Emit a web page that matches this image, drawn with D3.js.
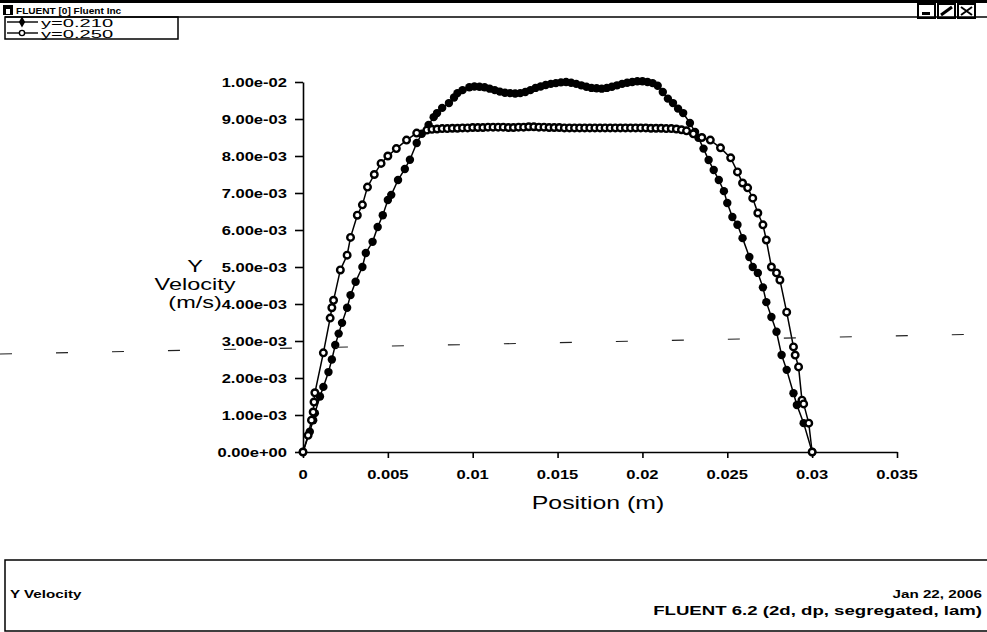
<!DOCTYPE html>
<html>
<head>
<meta charset="utf-8">
<script src="https://cdn.jsdelivr.net/npm/d3@7"></script>
<style>
  body { margin: 0; background: #fff; }
  svg { display: block; }
  text { font-family: "Liberation Sans", Arial, sans-serif; fill: #000; }
</style>
</head>
<body>
<script>
// size of the page
var width = 987;
var height = 632;
var stretch = 1.38; // the scanned plot is wider than it is tall, text too

// tick labels
var xTickValues = [0, 0.005, 0.01, 0.015, 0.02, 0.025, 0.03, 0.035];
var xTickLabels = ["0", "0.005", "0.01", "0.015", "0.02", "0.025", "0.03", "0.035"];
var yTickValues = [0, 1, 2, 3, 4, 5, 6, 7, 8, 9, 10];   // in 1e-3 m/s
var yTickLabels = ["0.00e+00", "1.00e-03", "2.00e-03", "3.00e-03", "4.00e-03", "5.00e-03",
                   "6.00e-03", "7.00e-03", "8.00e-03", "9.00e-03", "1.00e-02"];

var seriesNames = ["y=0.210", "y=0.250"];

// [position (m), Y velocity (1e-3 m/s)]
var line210 = [
  [0, 0], [0.0004, 0.55], [0.0006, 0.86], [0.0007, 1.05], [0.0010, 1.50], [0.0012, 1.76],
  [0.0015, 2.16], [0.0017, 2.50], [0.0019, 2.89], [0.0021, 3.20], [0.0023, 3.49], [0.0026, 3.90],
  [0.0028, 4.24], [0.0031, 4.60], [0.0035, 5.00], [0.0037, 5.38], [0.0041, 5.68], [0.0044, 6.08],
  [0.0047, 6.40], [0.0050, 6.81], [0.0052, 6.95], [0.0056, 7.35], [0.0060, 7.65], [0.0063, 7.90],
  [0.0067, 8.35], [0.0070, 8.60], [0.0074, 8.84], [0.0077, 9.05], [0.0079, 9.16], [0.0082, 9.30],
  [0.0086, 9.43], [0.0089, 9.58], [0.0091, 9.70], [0.0094, 9.78], [0.0098, 9.86], [0.0101, 9.88],
  [0.0104, 9.87], [0.0107, 9.86], [0.0110, 9.82], [0.0113, 9.78], [0.0116, 9.74], [0.0119, 9.71],
  [0.0122, 9.70], [0.0125, 9.69], [0.0128, 9.70], [0.0131, 9.73], [0.0134, 9.78], [0.0137, 9.84],
  [0.0140, 9.88], [0.0143, 9.92], [0.0146, 9.95], [0.0149, 9.97], [0.0152, 9.99], [0.0155, 10.0],
  [0.0158, 9.98], [0.0161, 9.95], [0.0164, 9.91], [0.0167, 9.87], [0.0170, 9.84], [0.0173, 9.83],
  [0.0176, 9.82], [0.0179, 9.84], [0.0182, 9.87], [0.0185, 9.91], [0.0188, 9.95], [0.0191, 9.98],
  [0.0194, 10.0], [0.0197, 10.02], [0.0200, 10.02], [0.0203, 10.0], [0.0206, 9.97], [0.0209, 9.90],
  [0.0212, 9.73], [0.0215, 9.55], [0.0218, 9.43], [0.0221, 9.28], [0.0224, 9.16], [0.0228, 8.89],
  [0.0231, 8.65], [0.0233, 8.49], [0.0236, 8.20], [0.0239, 7.89], [0.0242, 7.62], [0.0245, 7.35],
  [0.0248, 7.05], [0.0250, 6.73], [0.0253, 6.35], [0.0256, 6.14], [0.0259, 5.78], [0.0263, 5.27],
  [0.0265, 5.00], [0.0268, 4.84], [0.0271, 4.45], [0.0273, 4.05], [0.0276, 3.65], [0.0279, 3.25],
  [0.0282, 2.62], [0.0285, 2.22], [0.0289, 1.59], [0.0291, 1.27], [0.0295, 0.78], [0.0300, 0]
];

var line250 = [
  [0, 0], [0.0003, 0.45], [0.0005, 0.86], [0.0006, 1.08], [0.00065, 1.35], [0.0007, 1.60],
  [0.0012, 2.68], [0.0016, 3.62], [0.0017, 3.90], [0.0018, 4.10], [0.0022, 4.92], [0.0026, 5.32],
  [0.0028, 5.80], [0.0032, 6.40], [0.0035, 6.68], [0.0038, 7.16], [0.0042, 7.50], [0.0046, 7.80],
  [0.0050, 8.00], [0.0055, 8.20], [0.0061, 8.43], [0.0067, 8.62], [0.0073, 8.70], [0.0076, 8.72],
  [0.0079, 8.73], [0.0082, 8.74], [0.0085, 8.74], [0.0088, 8.75], [0.0091, 8.75], [0.0094, 8.76],
  [0.0097, 8.76], [0.0100, 8.77], [0.0103, 8.77], [0.0106, 8.77], [0.0109, 8.78], [0.0112, 8.78],
  [0.0115, 8.78], [0.0118, 8.78], [0.0121, 8.77], [0.0124, 8.77], [0.0127, 8.78], [0.0130, 8.78],
  [0.0133, 8.79], [0.0136, 8.79], [0.0139, 8.78], [0.0142, 8.78], [0.0145, 8.77], [0.0148, 8.77],
  [0.0151, 8.77], [0.0154, 8.76], [0.0157, 8.76], [0.0160, 8.76], [0.0163, 8.76], [0.0166, 8.76],
  [0.0169, 8.76], [0.0172, 8.76], [0.0175, 8.76], [0.0178, 8.76], [0.0181, 8.76], [0.0184, 8.76],
  [0.0187, 8.76], [0.0190, 8.76], [0.0193, 8.76], [0.0196, 8.76], [0.0199, 8.76], [0.0202, 8.76],
  [0.0205, 8.75], [0.0208, 8.75], [0.0211, 8.75], [0.0214, 8.74], [0.0217, 8.74], [0.0220, 8.73],
  [0.0223, 8.71], [0.0226, 8.68], [0.0230, 8.60], [0.0235, 8.50], [0.0240, 8.43], [0.0246, 8.22],
  [0.0252, 7.95], [0.0256, 7.57], [0.0259, 7.27], [0.0262, 7.14], [0.0265, 6.86], [0.0268, 6.46],
  [0.0271, 6.14], [0.0273, 5.73], [0.0276, 5.00], [0.0279, 4.84], [0.0281, 4.65], [0.0285, 3.78],
  [0.0289, 2.84], [0.0290, 2.62], [0.0292, 2.30], [0.0294, 1.40], [0.0295, 1.30], [0.0298, 0.78],
  [0.0300, 0]
];

// scales
var x = d3.scaleLinear().domain([0, 0.035]).range([303, 897]);
var y = d3.scaleLinear().domain([0, 10]).range([452, 82]);

var svg = d3.select("body")
            .append("svg")
            .attr("width", width)
            .attr("height", height);

// text helper, stretched sideways like the scan
function label(g, str, px, py, size, anchor, weight, sx, sy) {
  return g.append("text")
          .attr("transform", "translate(" + px + "," + py + ") scale(" + (sx || stretch) + "," + (sy || 1) + ")")
          .attr("text-anchor", anchor)
          .style("font-size", size + "px")
          .style("font-weight", weight)
          .text(str);
}

// ---- window frame ----
svg.append("rect").attr("x", 0).attr("y", 0).attr("width", width).attr("height", 3).attr("fill", "#000");
svg.append("rect").attr("x", 3).attr("y", 5).attr("width", 10).attr("height", 10).attr("fill", "#000");
svg.append("rect").attr("x", 6).attr("y", 9).attr("width", 4).attr("height", 5).attr("fill", "#fff");
label(svg, "FLUENT [0] Fluent Inc", 16, 14, 9, "start", "bold", 1.12);

// window buttons
[918, 938, 958].forEach(function(bx, i) {
  svg.append("rect").attr("x", bx).attr("y", 4).attr("width", 17).attr("height", 14)
     .attr("fill", "#fff").attr("stroke", "#000").attr("stroke-width", 2);
  if (i == 0) svg.append("rect").attr("x", bx + 4).attr("y", 12).attr("width", 8).attr("height", 3).attr("fill", "#000");
  if (i == 1) svg.append("path").attr("d", "M" + (bx + 3) + ",15L" + (bx + 14) + ",7").attr("stroke", "#000").attr("stroke-width", 3);
  if (i == 2) svg.append("path").attr("d", "M" + (bx + 3) + ",7L" + (bx + 14) + ",15M" + (bx + 14) + ",7L" + (bx + 3) + ",15").attr("stroke", "#000").attr("stroke-width", 2);
});

svg.append("line").attr("x1", 5).attr("x2", width).attr("y1", 17).attr("y2", 17)
   .attr("stroke", "#000").attr("stroke-width", 1.5);

// legend box
var legend = svg.append("g");
legend.append("rect").attr("x", 5).attr("y", 17).attr("width", 173).attr("height", 22)
      .attr("fill", "none").attr("stroke", "#000").attr("stroke-width", 1.5);
seriesNames.forEach(function(name, i) {
  var ly = 22 + i * 11;
  legend.append("line").attr("x1", 7).attr("x2", 38).attr("y1", ly).attr("y2", ly)
        .attr("stroke", "#000").attr("stroke-width", 1.4);
  if (i == 0) {
    legend.append("path").attr("d", d3.symbol(d3.symbolDiamond, 34)())
          .attr("transform", "translate(22," + ly + ")").attr("fill", "#000");
  } else {
    legend.append("circle").attr("cx", 22).attr("cy", ly).attr("r", 2.6)
          .attr("fill", "#fff").attr("stroke", "#000").attr("stroke-width", 1.4);
  }
  label(legend, name, 41, ly + 4.5, 13, "start", "normal", 1.55, 0.82);
});

// ---- axes ----
var xAxis = svg.append("g").attr("transform", "translate(0," + y(0) + ")");
xAxis.call(d3.axisBottom(x).tickValues(d3.range(0, 0.0351, 0.001)).tickSize(3).tickFormat(""));
xAxis.call(d3.axisBottom(x).tickValues(xTickValues).tickSize(6).tickSizeOuter(0).tickFormat(""));
xAxis.selectAll("path,line").attr("stroke", "#000").attr("stroke-width", 1.6);

var yAxis = svg.append("g").attr("transform", "translate(" + x(0) + ",0)");
yAxis.call(d3.axisLeft(y).tickValues(d3.range(0, 10.01, 0.2)).tickSize(4).tickFormat(""));
yAxis.call(d3.axisLeft(y).tickValues(yTickValues).tickSize(8).tickSizeOuter(0).tickFormat(""));
yAxis.selectAll("path,line").attr("stroke", "#000").attr("stroke-width", 1.6);

xTickValues.forEach(function(v, i) {
  label(svg, xTickLabels[i], x(v), 479, 12, "middle", "bold");
});
yTickValues.forEach(function(v, i) {
  label(svg, yTickLabels[i], 287, y(v) + 4.5, 12, "end", "bold");
});

// axis titles
label(svg, "Position (m)", 598, 509, 18, "middle", "normal");
label(svg, "Y", 195, 272, 17, "middle", "normal");
label(svg, "Velocity", 195, 290, 17, "middle", "normal");
label(svg, "(m/s)", 195, 308, 17, "middle", "normal");

// ---- curves ----
var path = d3.line()
             .x(function(d) { return x(d[0]); })
             .y(function(d) { return y(d[1]); });

svg.append("path").datum(line210).attr("d", path)
   .attr("fill", "none").attr("stroke", "#000").attr("stroke-width", 1.5);
svg.append("path").datum(line250).attr("d", path)
   .attr("fill", "none").attr("stroke", "#000").attr("stroke-width", 1.5);

svg.selectAll("circle.filled")
   .data(line210)
   .enter()
   .append("circle")
   .attr("class", "filled")
   .attr("cx", function(d) { return x(d[0]); })
   .attr("cy", function(d) { return y(d[1]); })
   .attr("r", 4.2)
   .style("fill", "#000");

svg.selectAll("circle.open")
   .data(line250)
   .enter()
   .append("circle")
   .attr("class", "open")
   .attr("cx", function(d) { return x(d[0]); })
   .attr("cy", function(d) { return y(d[1]); })
   .attr("r", 3.3)
   .style("fill", "#fff")
   .style("stroke", "#000")
   .style("stroke-width", 2.4);

// dashed scan line across the sheet
svg.append("line").attr("x1", 0).attr("y1", 354).attr("x2", width).attr("y2", 334)
   .attr("stroke", "#222").attr("stroke-width", 1.1).attr("stroke-dasharray", "12,44");

// ---- footer box ----
var foot = svg.append("g");
foot.append("path").attr("d", "M" + width + ",560H5V631H" + width)
    .attr("fill", "none").attr("stroke", "#000").attr("stroke-width", 1.5);
label(foot, "Y Velocity", 10, 598, 11, "start", "bold");
label(foot, "Jan 22, 2006", 982, 598, 11, "end", "bold");
label(foot, "FLUENT 6.2 (2d, dp, segregated, lam)", 982, 615, 13.5, "end", "bold");
</script>
</body>
</html>
